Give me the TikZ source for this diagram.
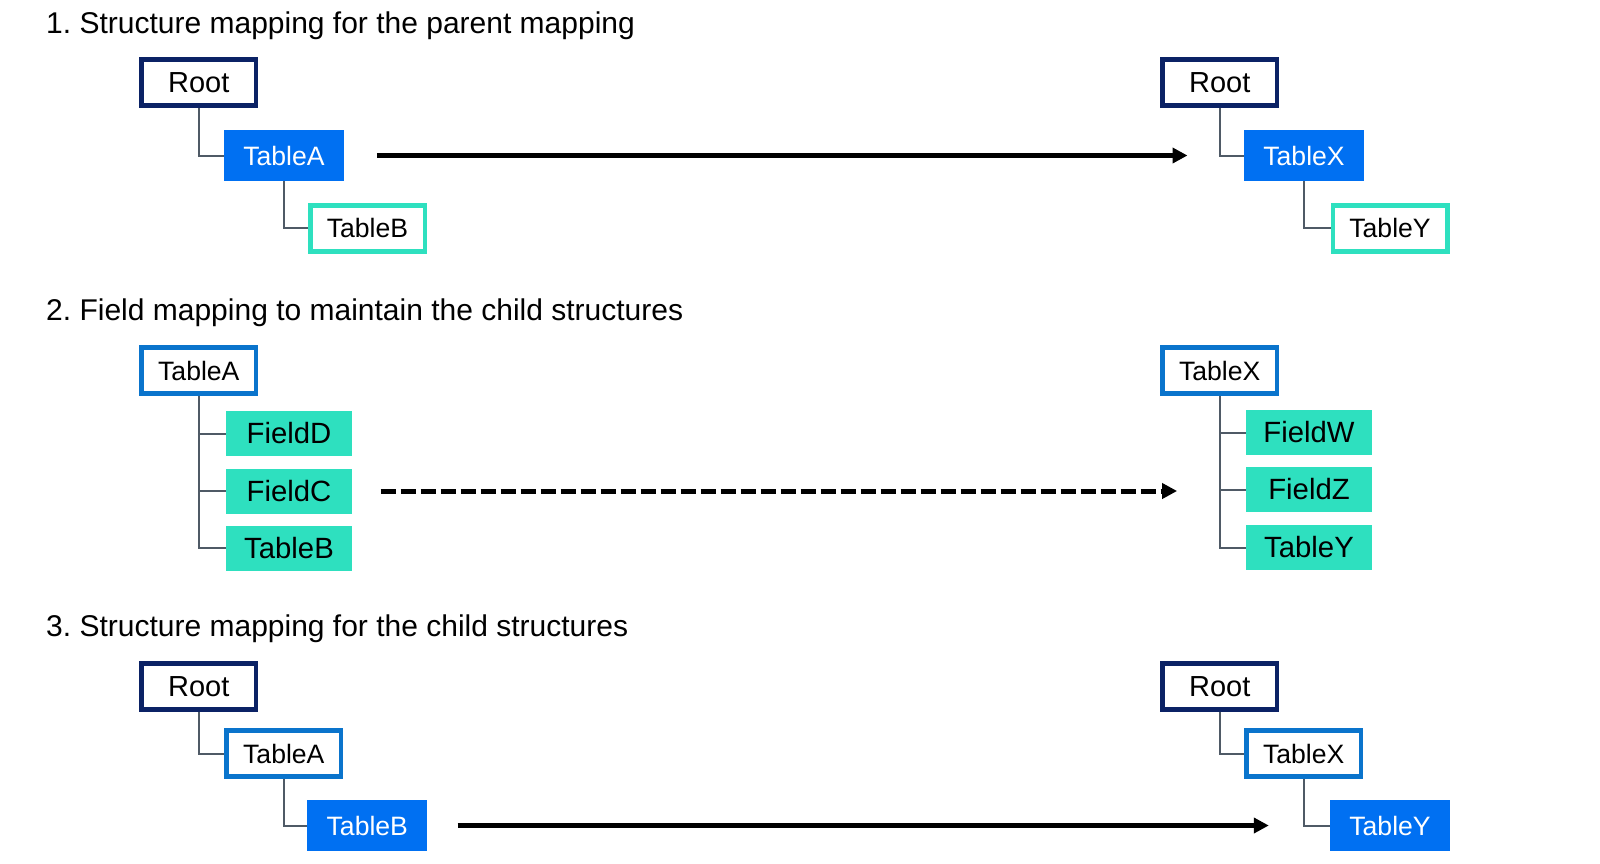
\documentclass[tikz,border=0pt]{standalone}
\usepackage{fontspec}
\setmainfont{Liberation Sans}
\usetikzlibrary{arrows.meta}
\frenchspacing
\definecolor{navy}{HTML}{0B2265}
\definecolor{bluefill}{HTML}{0070F2}
\definecolor{tealc}{HTML}{2EE0BF}
\definecolor{midblue}{HTML}{0A74CC}
\definecolor{conn}{HTML}{4F5A66}
\tikzset{
  boxtext/.style={font=\fontsize{26.6}{30}\selectfont, inner sep=0pt, text=black},
  rootbox/.style={boxtext, font=\fontsize{29}{32}\selectfont, draw=navy, line width=4.5pt, fill=white, minimum width=114.5pt, minimum height=46pt},
  tblbox/.style={boxtext, draw=midblue, line width=4.5pt, fill=white, minimum width=114.5pt, minimum height=46pt},
  childbox/.style={boxtext, draw=tealc, line width=4.5pt, fill=white, minimum width=114.5pt, minimum height=46pt},
  selbox/.style={boxtext, fill=bluefill, text=white, minimum width=120pt, minimum height=51pt},
  fieldbox/.style={boxtext, font=\fontsize{29.3}{32}\selectfont, fill=tealc, minimum width=126pt, minimum height=45pt},
  title/.style={font=\fontsize{30}{33}\selectfont, inner sep=0pt, anchor=base west},
  tree/.style={draw=conn, line width=2pt},
  maparrow/.style={line width=4.5pt, -{Triangle[length=15pt,width=15pt]}},
  dasharrow/.style={maparrow, line width=5pt, dash pattern=on 15pt off 5pt}
}
\begin{document}
\begin{tikzpicture}[x=1pt,y=-1pt]
\fill[white] (0,0) rectangle (1600,863);
\useasboundingbox (0,0) rectangle (1600,863);

% Section 1
\node[title] (t1) at (46,33) {1. Structure mapping for the parent mapping};
\node[rootbox] (r1l) at (198.8,82.5) {Root};
\node[selbox] (a1l) at (284,155.5) {TableA};
\node[childbox] (b1l) at (367.5,228.3) {TableB};
\draw[tree] (r1l.south) |- (a1l.west);
\draw[tree] (a1l.south) |- (b1l.west);
\node[rootbox] (r1r) at (1219.7,82.5) {Root};
\node[selbox] (x1r) at (1304,155.5) {TableX};
\node[childbox] (y1r) at (1390,228.3) {TableY};
\draw[tree] (r1r.south) |- (x1r.west);
\draw[tree] (x1r.south) |- (y1r.west);
\draw[maparrow] ([xshift=32.7pt]a1l.east) -- ([xshift=-56.3pt]x1r.west);

% Section 2
\node[title] (t2) at (46,320) {2. Field mapping to maintain the child structures};
\node[tblbox] (a2l) at (198.8,370.5) {TableA};
\node[fieldbox] (fd) at (289,433.5) {FieldD};
\node[fieldbox] (fc) at (289,491) {FieldC};
\node[fieldbox] (b2l) at (289,548) {TableB};
\draw[tree] (a2l.south) |- (b2l.west);
\draw[tree] (a2l.south |- fd.west) -- (fd.west);
\draw[tree] (a2l.south |- fc.west) -- (fc.west);
\node[tblbox] (x2r) at (1219.7,370.5) {TableX};
\node[fieldbox] (fw) at (1309,432.5) {FieldW};
\node[fieldbox] (fz) at (1309,489.5) {FieldZ};
\node[fieldbox] (y2r) at (1309,547.5) {TableY};
\draw[tree] (x2r.south) |- (y2r.west);
\draw[tree] (x2r.south |- fw.west) -- (fw.west);
\draw[tree] (x2r.south |- fz.west) -- (fz.west);
\coordinate (dtip) at ([xshift=-68.7pt]fz.west);
\draw[dasharrow] ([xshift=28.3pt]fc.east) -- (dtip |- fc.east);

% Section 3
\node[title] (t3) at (46,636) {3. Structure mapping for the child structures};
\node[rootbox] (r3l) at (198.8,686.3) {Root};
\node[tblbox] (a3l) at (283.8,753.7) {TableA};
\node[selbox] (b3l) at (367.3,825.5) {TableB};
\draw[tree] (r3l.south) |- (a3l.west);
\draw[tree] (a3l.south) |- (b3l.west);
\node[rootbox] (r3r) at (1219.7,686.3) {Root};
\node[tblbox] (x3r) at (1303.7,753.7) {TableX};
\node[selbox] (y3r) at (1390,825.5) {TableY};
\draw[tree] (r3r.south) |- (x3r.west);
\draw[tree] (x3r.south) |- (y3r.west);
\draw[maparrow] ([xshift=30pt]b3l.east) -- ([xshift=-61pt]y3r.west);
\end{tikzpicture}
\end{document}
